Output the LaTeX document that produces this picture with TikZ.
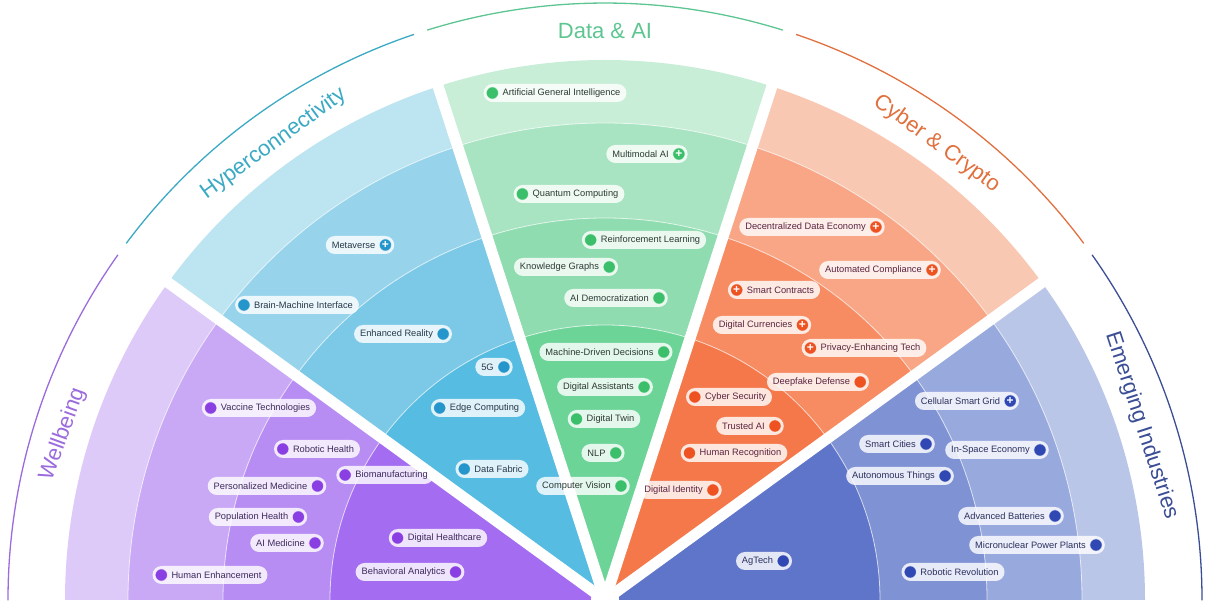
\documentclass[tikz,border=0pt]{standalone}
\usepackage{fontspec}
\setmainfont{Liberation Sans}
\usepackage{tikz}
\definecolor{wbA}{HTML}{DDCAF8}
\definecolor{wbB}{HTML}{C9A9F5}
\definecolor{wbC}{HTML}{B78DF3}
\definecolor{wbD}{HTML}{A46CF0}
\definecolor{wbdot}{HTML}{8A3FE3}
\definecolor{wbT}{HTML}{9B6BDD}
\definecolor{wbtx}{HTML}{3D2A5C}
\definecolor{hcA}{HTML}{BDE4F1}
\definecolor{hcB}{HTML}{97D4EC}
\definecolor{hcC}{HTML}{7BC8E7}
\definecolor{hcD}{HTML}{56BCE1}
\definecolor{hcdot}{HTML}{2596CC}
\definecolor{hcT}{HTML}{3AA9C3}
\definecolor{hctx}{HTML}{26384A}
\definecolor{daA}{HTML}{C8EED8}
\definecolor{daB}{HTML}{A8E4C2}
\definecolor{daC}{HTML}{8FDCB0}
\definecolor{daD}{HTML}{6DD498}
\definecolor{dadot}{HTML}{3CBF6B}
\definecolor{daT}{HTML}{5DC592}
\definecolor{datx}{HTML}{2B3B33}
\definecolor{cyA}{HTML}{F9C8B3}
\definecolor{cyB}{HTML}{F8A686}
\definecolor{cyC}{HTML}{F78C63}
\definecolor{cyD}{HTML}{F5784A}
\definecolor{cydot}{HTML}{EE5220}
\definecolor{cyT}{HTML}{E0703E}
\definecolor{cytx}{HTML}{5B2440}
\definecolor{emA}{HTML}{BAC6E8}
\definecolor{emB}{HTML}{98A9DE}
\definecolor{emC}{HTML}{7F92D4}
\definecolor{emD}{HTML}{5F75C9}
\definecolor{emdot}{HTML}{2F48B3}
\definecolor{emT}{HTML}{3B4E95}
\definecolor{emtx}{HTML}{2B2F5E}
\newcommand{\chipL}[4][]{%
  \node[chip] (#2) at (#3) {\hspace*{13pt}#4};
  \node[dot] (#2-dot) at ([xshift=9pt]#2.west) {#1};}
\newcommand{\chipR}[4][]{%
  \node[chip] (#2) at (#3) {#4\hspace*{13pt}};
  \node[dot] (#2-dot) at ([xshift=-9pt]#2.east) {#1};}

\begin{document}
\begin{tikzpicture}[line cap=round,line join=round,x=1pt,y=1pt,
    chip/.style={rounded corners=9pt,fill=white,fill opacity=0.82,text opacity=1,
      minimum height=18pt,inner xsep=6pt,inner ysep=0pt,text=chiptext,
      font=\fontsize{9.3}{10}\selectfont},
    dot/.style={circle,fill=chipdot,draw=white,draw opacity=0.7,line width=1pt,
      minimum size=12.5pt,inner sep=0pt,text=white,font=\fontsize{12}{12}\selectfont\bfseries},
    title/.style={font=\fontsize{22}{24}\selectfont},
    rim/.style={line width=1.3pt}]
\useasboundingbox (0,-2) rectangle (1205,600);
\coordinate (cen) at (605,0);
\foreach \a/\ca/\cb/\cc/\cd in {144/wbA/wbB/wbC/wbD,108/hcA/hcB/hcC/hcD,72/daA/daB/daC/daD,36/cyA/cyB/cyC/cyD,0/emA/emB/emC/emD}
  \foreach \r/\c in {540/\ca,477/\cb,382/\cc,275/\cd}
    \fill[\c] (cen) -- ++(\a:\r) arc[start angle=\a,end angle=\a+36,radius=\r] -- cycle;
\foreach \r in {275,382,477}
  \draw[white,opacity=0.7,line width=0.8pt] ([shift={(0:\r)}]cen) arc[start angle=0,end angle=180,radius=\r];
\foreach \a in {36,72,108,144}
  \draw[white,line width=11pt,line cap=butt] (cen) -- ++(\a:560);
\fill[white] (cen) circle (14);

% rims and titles
\draw[rim,wbT] ([shift={(180:597)}]cen) arc[start angle=180,end angle=144.7,radius=597];
\draw[rim,hcT] ([shift={(143.3:597)}]cen) arc[start angle=143.3,end angle=108.7,radius=597];
\draw[rim,daT] ([shift={(107.3:597)}]cen) arc[start angle=107.3,end angle=72.7,radius=597];
\draw[rim,cyT] ([shift={(71.3:597)}]cen) arc[start angle=71.3,end angle=36.7,radius=597];
\draw[rim,emT] ([shift={(35.3:597)}]cen) arc[start angle=35.3,end angle=0,radius=597];
\node[title,text=wbT,rotate=70] (wbtitle) at ([shift={(163:567)}]cen) {Wellbeing};
\node[title,text=hcT,rotate=36] (hctitle) at ([shift={(126:564)}]cen) {Hyperconnectivity};
\node[title,text=daT] (datitle) at ([shift={(90:569)}]cen) {Data \& AI};
\node[title,text=cyT,rotate=-36] (cytitle) at ([shift={(54:564)}]cen) {Cyber \& Crypto};
\node[title,text=emT,rotate=-72] (emtitle) at ([shift={(18:564)}]cen) {Emerging Industries};

% Wellbeing
\colorlet{chiptext}{wbtx}\colorlet{chipdot}{wbdot}
\chipL{vaccine}{259,192}{Vaccine Technologies}
\chipL{robhealth}{317,151}{Robotic Health}
\chipR{persmed}{267,114}{Personalized Medicine}
\chipL{biomanuf}{385,125}{Biomanufacturing}
\chipR{pophealth}{258,83}{Population Health}
\chipR{aimed}{287,57}{AI Medicine}
\chipL{humenh}{210,25}{Human Enhancement}
\chipL{dighealth}{438,62}{Digital Healthcare}
\chipR{behav}{410,28}{Behavioral Analytics}

% Hyperconnectivity
\colorlet{chiptext}{hctx}\colorlet{chipdot}{hcdot}
\chipR[+]{metaverse}{360,355}{Metaverse}
\chipL{bmi}{297,295}{Brain-Machine Interface}
\chipR{enhreal}{403,266}{Enhanced Reality}
\chipR{fiveg}{494,233}{5G}
\chipL{edge}{478,192}{Edge Computing}
\chipL{fabric}{492,131}{Data Fabric}

% Data & AI
\colorlet{chiptext}{datx}\colorlet{chipdot}{dadot}
\chipL{agi}{555,507}{Artificial General Intelligence}
\chipR[+]{multimodal}{647,446}{Multimodal AI}
\chipL{quantum}{569,406}{Quantum Computing}
\chipL{reinf}{644,360}{Reinforcement Learning}
\chipR{kgraphs}{566,333}{Knowledge Graphs}
\chipR{aidemo}{616,302}{AI Democratization}
\chipR{mdd}{606,248}{Machine-Driven Decisions}
\chipR{digassist}{605,213}{Digital Assistants}
\chipL{digtwin}{604,181}{Digital Twin}
\chipR{nlp}{603,147}{NLP}
\chipR{compvis}{583,114}{Computer Vision}

% Cyber & Crypto
\colorlet{chiptext}{cytx}\colorlet{chipdot}{cydot}
\chipR[+]{decdata}{812,373}{Decentralized Data Economy}
\chipR[+]{autocomp}{880,330}{Automated Compliance}
\chipL[+]{smartcon}{774,310}{Smart Contracts}
\chipR[+]{digcur}{762,275}{Digital Currencies}
\chipL[+]{privacy}{864,252}{Privacy-Enhancing Tech}
\chipR{deepfake}{818,218}{Deepfake Defense}
\chipL{cybersec}{729,203}{Cyber Security}
\chipR{trustedai}{750,174}{Trusted AI}
\chipL{humrec}{734,147}{Human Recognition}
\chipR{digid}{680,110}{Digital Identity}

% Emerging Industries
\colorlet{chiptext}{emtx}\colorlet{chipdot}{emdot}
\chipR[+]{cellgrid}{967,199}{Cellular Smart Grid}
\chipR{smartcities}{897,156}{Smart Cities}
\chipR{inspace}{997,150}{In-Space Economy}
\chipR{autothings}{900,124}{Autonomous Things}
\chipR{advbatt}{1011,84}{Advanced Batteries}
\chipR{micronuc}{1037,55}{Micronuclear Power Plants}
\chipL{robrev}{953,28}{Robotic Revolution}
\chipR{agtech}{764,39}{AgTech}
\end{tikzpicture}
\end{document}
